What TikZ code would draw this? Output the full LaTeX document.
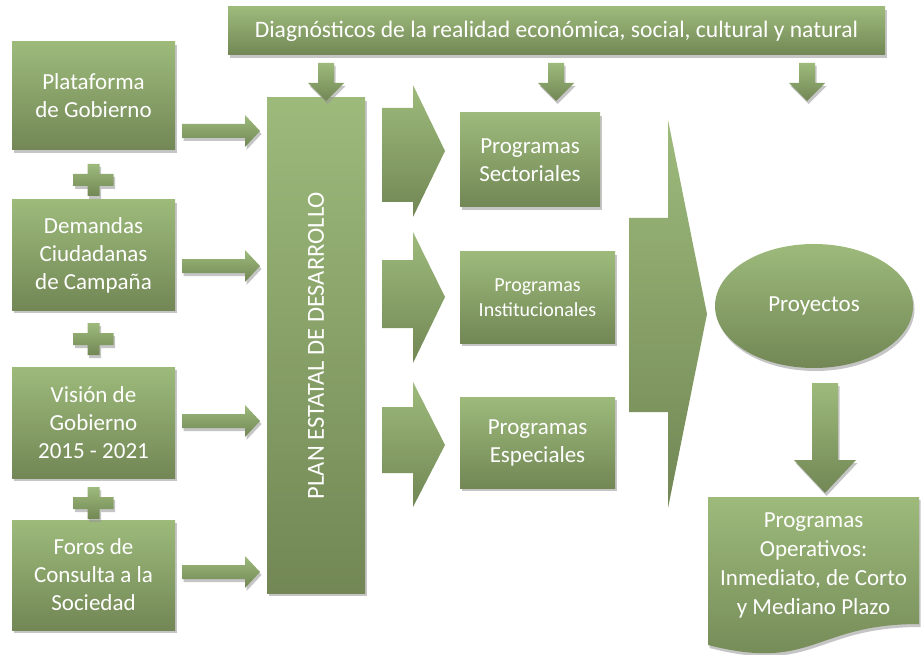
\documentclass[tikz,border=0pt]{standalone}
\usepackage{fontspec}
\setmainfont{Carlito}
\usetikzlibrary{shadows,shapes.geometric,calc}
\definecolor{gtop}{RGB}{157,186,123}
\definecolor{gbot}{RGB}{114,135,85}
\definecolor{shd}{RGB}{150,150,150}
\tikzset{
  shadowed/.style={drop shadow={shadow xshift=1.5pt, shadow yshift=-3pt, opacity=0.55, fill=shd}},
  grad/.style={top color=gtop, bottom color=gbot, draw=none},
  box/.style={grad, shadowed, rectangle, text=white, align=center, inner sep=0pt,
    font=\fontsize{23}{28}\selectfont},
  shapeblk/.style={grad},
  arrowblk/.style={grad, shadowed},
}
\newcommand\sidearrow[1]{\path[arrowblk] (182,#1-7) -- (245,#1-7) -- (245,#1-16) -- (260,#1) -- (245,#1+16) -- (245,#1+7) -- (182,#1+7) -- cycle;}
\newcommand\toparrow[1]{\path[arrowblk] (#1-8,63) -- (#1+8,63) -- (#1+8,83) -- (#1+18,83) -- (#1,101) -- (#1-18,83) -- (#1-8,83) -- cycle;}
\newcommand\plussign[1]{\path[arrowblk] (87.5,#1-16) -- (99.5,#1-16) -- (99.5,#1-6) -- (113.5,#1-6) -- (113.5,#1+6) -- (99.5,#1+6) -- (99.5,#1+16) -- (87.5,#1+16) -- (87.5,#1+6) -- (73.5,#1+6) -- (73.5,#1-6) -- (87.5,#1-6) -- cycle;}
\newcommand\chevron[5]{\path[shapeblk] (382,#1) -- (413,#1) -- (413,#3) -- (445,#5) -- (413,#4) -- (413,#2) -- (382,#2) -- cycle;}
\begin{document}
\begin{tikzpicture}[x=1pt,y=-1pt]
\useasboundingbox (0,0) rectangle (921,655);
\fill[white] (0,0) rectangle (921,655);

% banner
\node[box, minimum width=657pt, minimum height=48pt, font=\fontsize{23.6}{28}\selectfont] (diag) at (556.5,31) {Diagnósticos de la realidad económica, social, cultural y natural};

% left boxes
\node[box, minimum width=163pt, minimum height=108pt] (b1) at (93.5,96) {Plataforma\\de Gobierno};
\node[box, minimum width=163pt, minimum height=110pt] (b2) at (93.5,255) {Demandas\\Ciudadanas\\de Campaña};
\node[box, minimum width=163pt, minimum height=111pt] (b3) at (93.5,422.5) {Visión de\\Gobierno\\2015 - 2021};
\node[box, minimum width=163pt, minimum height=110pt] (b4) at (93.5,575) {Foros de\\Consulta a la\\Sociedad};

\plussign{180}
\plussign{339}
\plussign{503}

% plan
\node[box, minimum width=98pt, minimum height=495pt, font=\fontsize{24.5}{28}\selectfont] (plan) at (316,345.5) {\rotatebox{90}{PLAN ESTATAL DE DESARROLLO}};

\sidearrow{131}
\sidearrow{266}
\sidearrow{421}
\sidearrow{572}

% top arrows
\toparrow{326}
\toparrow{556}
\toparrow{807}

% chevrons
\chevron{108}{202}{85}{217}{151}
\chevron{260}{328}{232}{363}{297}
\chevron{407}{473}{382}{507}{445}

% programas
\node[box, minimum width=140pt, minimum height=94pt] (pA) at (530,160) {Programas\\Sectoriales};
\node[box, minimum width=155pt, minimum height=91pt, font=\fontsize{20}{25}\selectfont] (pB) at (537.5,297.5) {Programas\\Institucionales};
\node[box, minimum width=155pt, minimum height=91pt] (pC) at (537.5,442.5) {Programas\\Especiales};

% big chevron
\path[shapeblk] (629,218) -- (668,218) -- (668,120) -- (707,314) -- (668,508) -- (668,412) -- (629,412) -- cycle;

% proyectos
\node[box, ellipse, minimum width=198pt, minimum height=124pt] (proy) at (814,306) {Proyectos};

% down arrow
\path[arrowblk] (812,383) -- (838,383) -- (838,460) -- (856,460) -- (825,493) -- (794,460) -- (812,460) -- cycle;

% document shape
\path[grad, shadowed] (708,497) -- (919,497) -- (919,624) .. controls (813.5,624) and (813.5,672) .. (708,645) -- cycle;
\node[text=white, align=center, font=\fontsize{23}{29}\selectfont, inner sep=0pt] (ops) at (813.5,565) {Programas\\Operativos:\\Inmediato, de Corto\\y Mediano Plazo};
\end{tikzpicture}
\end{document}
